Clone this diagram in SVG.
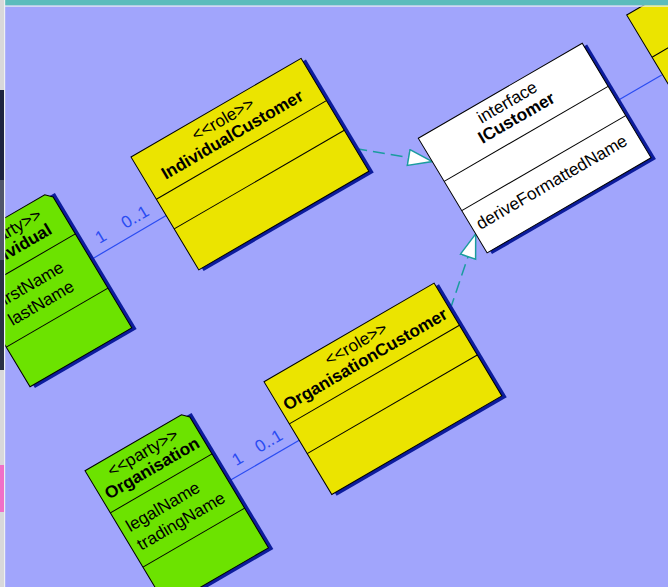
<svg xmlns="http://www.w3.org/2000/svg" width="668" height="587" viewBox="0 0 668 587">
<defs>
<style>
.shadow{fill:#0c1c9c;stroke:none}
.role{fill:#ebe400;stroke:#000;stroke-width:1}
.party{fill:#6ce300;stroke:#000;stroke-width:1}
.iface{fill:#ffffff;stroke:#000;stroke-width:1}
.sep{stroke:#000;stroke-width:1}
text{font-family:"Liberation Sans",Arial,sans-serif;font-size:17px;fill:#000}
.st{text-anchor:middle}
.nm{text-anchor:middle;font-weight:bold}
.mb{text-anchor:start}
.mult{fill:#2a4cf2;text-anchor:middle}
.assoc{stroke:#2a4cf2;stroke-width:1.2;fill:none}
.real{stroke:#1b9c9f;stroke-width:1.5;fill:none;stroke-dasharray:12 6;marker-end:url(#tri)}
</style>
<marker id="tri" markerUnits="userSpaceOnUse" markerWidth="28" markerHeight="20" refX="25" refY="9" orient="auto">
<path d="M1,1 L25,9 L1,17 Z" fill="#ffffff" stroke="#1b9c9f" stroke-width="1.5"/>
</marker>
</defs>
<rect x="0" y="0" width="668" height="587" fill="#a1a5fc"/>

<g id="connectors">
<line class="assoc" x1="90.9" y1="259.7" x2="166.2" y2="215.6"/>
<line class="assoc" x1="228.5" y1="481.3" x2="299.2" y2="440.3"/>
<line class="assoc" x1="616.9" y1="101" x2="661.7" y2="75"/>
<line class="real" x1="355.2" y1="148.5" x2="432.3" y2="161.6"/>
<line class="real" x1="450.1" y1="309.7" x2="475.7" y2="233.9"/>
<text class="mult" transform="matrix(0.8767,-0.5083,0.5174,0.8612,103.6,241.7)">1</text>
<text class="mult" transform="matrix(0.8767,-0.5083,0.5174,0.8612,137.8,221.9)">0..1</text>
<text class="mult" transform="matrix(0.8767,-0.5083,0.5174,0.8612,240.5,463.8)">1</text>
<text class="mult" transform="matrix(0.8767,-0.5083,0.5174,0.8612,271.6,445.8)">0..1</text>
</g>

<g id="individual" transform="matrix(0.8767,-0.5083,0.5174,0.8612,-51.7,250.7)">
<rect class="shadow" x="3.5" y="3.5" width="116" height="158"/>
<path class="party" d="M0,0 H110 L116,6 V158 H0 Z"/>
<line class="sep" x1="0" y1="49" x2="116" y2="49"/>
<line class="sep" x1="0" y1="112" x2="116" y2="112"/>
<text class="st" x="58" y="19">&lt;&lt;party&gt;&gt;</text>
<text class="nm" x="58" y="37">Individual</text>
<text class="mb" x="16" y="75.5">firstName</text>
<text class="mb" x="16" y="97">lastName</text>
</g>

<g id="organisation" transform="matrix(0.8767,-0.5083,0.5174,0.8612,85,470.7)">
<rect class="shadow" x="3.5" y="3.5" width="116" height="158"/>
<path class="party" d="M0,0 H110 L116,6 V158 H0 Z"/>
<line class="sep" x1="0" y1="49" x2="116" y2="49"/>
<line class="sep" x1="0" y1="112" x2="116" y2="112"/>
<text class="st" x="58" y="19">&lt;&lt;party&gt;&gt;</text>
<text class="nm" x="58" y="37">Organisation</text>
<text class="mb" x="7" y="75.5">legalName</text>
<text class="mb" x="7" y="97">tradingName</text>
</g>

<g id="individualCustomer" transform="matrix(0.8767,-0.5083,0.5174,0.8612,131,157)">
<rect class="shadow" x="3.5" y="3.5" width="194" height="131"/>
<rect class="role" x="0" y="0" width="194" height="131"/>
<line class="sep" x1="0" y1="49" x2="194" y2="49"/>
<line class="sep" x1="0" y1="83.5" x2="194" y2="83.5"/>
<text class="st" x="97" y="19">&lt;&lt;role&gt;&gt;</text>
<text class="nm" x="97" y="37">IndividualCustomer</text>
</g>

<g id="organisationCustomer" transform="matrix(0.8767,-0.5083,0.5174,0.8612,264,381.7)">
<rect class="shadow" x="3.5" y="3.5" width="194" height="131"/>
<rect class="role" x="0" y="0" width="194" height="131"/>
<line class="sep" x1="0" y1="49" x2="194" y2="49"/>
<line class="sep" x1="0" y1="83.5" x2="194" y2="83.5"/>
<text class="st" x="97" y="19">&lt;&lt;role&gt;&gt;</text>
<text class="nm" x="97" y="37">OrganisationCustomer</text>
</g>

<g id="iCustomer" transform="matrix(0.8767,-0.5083,0.5174,0.8612,418.3,138.3)">
<rect class="shadow" x="3.5" y="3.5" width="187" height="133"/>
<rect class="iface" x="0" y="0" width="187" height="133"/>
<line class="sep" x1="0" y1="50" x2="187" y2="50"/>
<line class="sep" x1="0" y1="84" x2="187" y2="84"/>
<text class="st" x="93.5" y="19">interface</text>
<text class="nm" x="93.5" y="37">ICustomer</text>
<text class="mb" x="6" y="110">deriveFormattedName</text>
</g>

<g id="roleTopRight" transform="matrix(0.8767,-0.5083,0.5174,0.8612,626.7,15)">
<rect class="shadow" x="3.5" y="3.5" width="194" height="131"/>
<rect class="role" x="0" y="0" width="194" height="131"/>
<line class="sep" x1="0" y1="49" x2="194" y2="49"/>
<line class="sep" x1="0" y1="83.5" x2="194" y2="83.5"/>
</g>

<g id="frame">
<rect x="0" y="0" width="668" height="5.5" fill="#5bbcbc"/>
<rect x="0" y="5.5" width="668" height="1.2" fill="#e6eef0"/>
<rect x="0" y="0" width="4" height="587" fill="#d8d8da"/>
<rect x="0" y="90" width="4" height="90" fill="#1e2440"/>
<rect x="0" y="180" width="4" height="80" fill="#50566a"/>
<rect x="0" y="260" width="4" height="110" fill="#2a3046"/>
<rect x="0" y="465" width="4" height="47" fill="#f070c8"/>
<rect x="4" y="0" width="1.2" height="587" fill="#eef0f2"/>
</g>
</svg>
